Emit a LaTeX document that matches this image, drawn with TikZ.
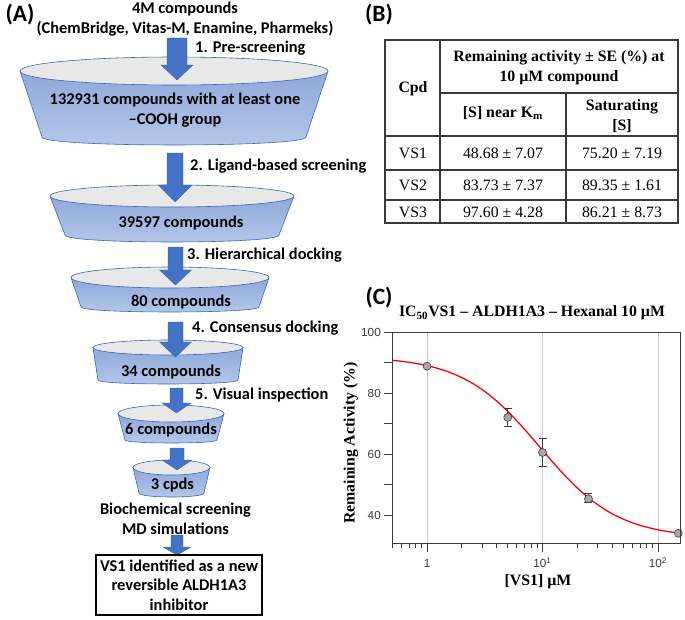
\documentclass[tikz,border=0pt]{standalone}
\usepackage{fontspec}
\setmainfont{Liberation Serif}
\newfontfamily\carfont{Carlito}
\newfontfamily\plotsans{Liberation Sans}
\usetikzlibrary{positioning,calc}
\definecolor{FunBlue}{HTML}{4472C4}
\definecolor{FunEdge}{HTML}{3A64B0}
\definecolor{FunTop}{HTML}{8EA8DB}
\definecolor{FunBot}{HTML}{B6C8E9}
\definecolor{LidGrey}{HTML}{E8E8E8}
\definecolor{GridGrey}{HTML}{CDCDCD}
\definecolor{AxisGrey}{HTML}{3A3A3A}
\definecolor{DotGrey}{HTML}{A9A9A9}

% funnel: name, cx, y top, rx top, ry, y bottom, rx bottom, sag
\newcommand{\funnel}[8]{%
  \draw[FunEdge,line width=0.5pt,top color=FunTop,bottom color=FunBot]
    ({#2-#4},#3) -- ({#2-#7},#6)
    .. controls ({#2-#7},{#6+1.33*#8}) and ({#2+#7},{#6+1.33*#8}) .. ({#2+#7},#6)
    -- ({#2+#4},#3) -- cycle;
  \draw[FunEdge,line width=0.5pt,fill=LidGrey] (#2,#3) ellipse [x radius=#4, y radius=#5];
  \coordinate (#1) at (#2,#3);
}
% block arrow: cx, y top, y tip, shaft half width, head half width, head length
\newcommand{\blockarrow}[6]{%
  \draw[FunEdge,line width=0.3pt,fill=FunBlue]
    ({#1-#4},#2) -- ({#1+#4},#2) -- ({#1+#4},{#3-#6}) -- ({#1+#5},{#3-#6})
    -- (#1,#3) -- ({#1-#5},{#3-#6}) -- ({#1-#4},{#3-#6}) -- cycle;
}

\begin{document}
\begin{tikzpicture}[
  x=0.03cm,y=-0.03cm,
  fu/.style={font=\carfont\bfseries\fontsize{14}{17}\selectfont,inner sep=0pt,align=center},
  stp/.style={fu,anchor=west},
  panel/.style={font=\carfont\bfseries\fontsize{20}{22}\selectfont,inner sep=0pt},
  tb/.style={font=\fontsize{13.5}{17}\selectfont,inner sep=0pt,align=center},
  tbh/.style={tb,font=\bfseries\fontsize{13.5}{17}\selectfont},
  tabln/.style={draw=AxisGrey,line width=0.9pt},
  axln/.style={draw=AxisGrey,line width=0.8pt},
  ticklab/.style={font=\plotsans\fontsize{10}{11}\selectfont,text=AxisGrey,inner sep=0pt},
  dot/.style={circle,fill=DotGrey,draw=AxisGrey,line width=0.5pt,minimum size=0.24cm,inner sep=0pt},
]
\useasboundingbox (0,0) rectangle (685,619);

% ---------------- (A) screening funnel
\node[panel] (labA) at (20,15) {(A)};
\node[fu] (lib) at (185,19) {4M compounds\\(ChemBridge, Vitas-M, Enamine, Pharmeks)};

\funnel{f1}{174}{71}{154}{14}{137}{132}{8}
\funnel{f2}{172}{196}{122}{11}{235}{107}{7}
\funnel{f3}{170}{277.5}{99}{10.5}{307}{89}{5}
\funnel{f4}{168}{347.5}{75}{7.5}{380}{70}{4}
\funnel{f5}{171}{413.5}{53}{8.5}{440}{46}{3}
\funnel{f6}{171.5}{467.5}{38.5}{7.5}{493}{32.5}{4}

\blockarrow{177}{38}{80}{10}{16}{15}
\blockarrow{175}{153}{202}{8}{17}{17}
\blockarrow{175.5}{247}{285}{7.5}{16}{15}
\blockarrow{175.5}{322}{357}{7.5}{16}{15}
\blockarrow{176.5}{388}{413}{6.5}{14.5}{10}
\blockarrow{177}{448}{470}{7}{15}{10}
\blockarrow{177}{535}{555}{6}{14}{8}

\node[stp] (s1) at (195,48) {1. Pre-screening};
\node[stp] (s2) at (190,166) {2. Ligand-based screening};
\node[stp] (s3) at (187,255) {3. Hierarchical docking};
\node[stp] (s4) at (192,328) {4. Consensus docking};
\node[stp] (s5) at (195,395) {5. Visual inspection};

\node[fu] (n1) at (175,110) {132931 compounds with at least one\\–COOH group};
\node[fu] (n2) at (181,223) {39597 compounds};
\node[fu] (n3) at (181,302) {80 compounds};
\node[fu] (n4) at (171,372) {34 compounds};
\node[fu] (n5) at (171,430) {6 compounds};
\node[fu] (n6) at (172.5,485) {3 cpds};
\node[fu] (bio) at (175.5,519) {Biochemical screening\\MD simulations};
\node[fu,draw=black,line width=1pt,minimum width=4.98cm,minimum height=1.8cm,
      font=\carfont\bfseries\fontsize{14}{16.8}\selectfont] (hit) at (179,585)
  {VS1 identified as a new\\reversible ALDH1A3\\inhibitor};

% ---------------- (B) table
\node[panel] (labB) at (379,15) {(B)};
\draw[tabln,line width=1.2pt] (385,40) rectangle (678,223);
\draw[tabln] (440,40) -- (440,223);
\draw[tabln] (566,93) -- (566,223);
\draw[tabln] (440,93) -- (678,93);
\foreach \ry in {136,170,200}
  \draw[tabln] (385,\ry) -- (678,\ry);

\node[tbh] (hcpd) at (413,89) {Cpd};
\node[tbh] (hact) at (559,68) {Remaining activity ± SE (\%) at\\10 µM compound};
\node[tbh] (hkm) at (503,113) {[S] near K\textsubscript{m}};
\node[tbh] (hsat) at (622,116) {Saturating\\{[S]}};
\foreach \cp/\va/\vb/\ry in {VS1/48.68 ± 7.07/75.20 ± 7.19/153,
                             VS2/83.73 ± 7.37/89.35 ± 1.61/185,
                             VS3/97.60 ± 4.28/86.21 ± 8.73/212}{
  \node[tb] (c\cp) at (413,\ry) {\cp};
  \node[tb] (k\cp) at (503,\ry) {\va};
  \node[tb] (s\cp) at (622,\ry) {\vb};
}

% ---------------- (C) IC50 curve
\node[panel] (labC) at (379,298) {(C)};
\node[tbh] (ttl) at (532,313) {IC\textsubscript{50}VS1 – ALDH1A3 – Hexanal 10 µM};

% grid at 1, 10, 100
\foreach \gx in {427,542.5,658}
  \draw[GridGrey,line width=0.6pt] (\gx,332) -- (\gx,543);
% fitted curve
\draw[red,line width=1.1pt] plot[domain=-0.303:2.19,samples=100,smooth]
  ({427+115.5*\x},{332+(100-(32.5+59.5/(1+pow(10,1.3*(\x-0.9777)))))*3.05});
% error bars
\foreach \lx/\hi/\lo in {0.699/75/69, 1/65/56, 1.398/47/44}{
  \draw[axln,line width=0.7pt] ({427+115.5*\lx},{332+(100-\hi)*3.05}) -- ({427+115.5*\lx},{332+(100-\lo)*3.05});
  \draw[axln,line width=0.7pt] ({427+115.5*\lx-4},{332+(100-\hi)*3.05}) -- ({427+115.5*\lx+4},{332+(100-\hi)*3.05});
  \draw[axln,line width=0.7pt] ({427+115.5*\lx-4},{332+(100-\lo)*3.05}) -- ({427+115.5*\lx+4},{332+(100-\lo)*3.05});
}
% data points
\foreach \lx/\v [count=\i] in {0/88.8, 0.699/72, 1/60.5, 1.398/45.3, 2.176/34}
  \node[dot] (pt\i) at ({427+115.5*\lx},{332+(100-\v)*3.05}) {};
% frame and ticks
\draw[axln] (392,332) rectangle (680,543);
\foreach \v in {40,50,...,100}
  \draw[axln] (392,{332+(100-\v)*3.05}) -- ++(-8,0);
\foreach \v in {40,60,80,100}
  \node[ticklab,anchor=east] (y\v) at (381,{332+(100-\v)*3.05}) {\v};
\foreach \m in {0.5,0.6,0.7,0.8,0.9,2,3,4,5,6,7,8,9,20,30,40,50,60,70,80,90}
  \draw[axln] ({427+115.5*log10(\m)},543) -- ++(0,5);
\foreach \gx in {427,542.5,658}
  \draw[axln] (\gx,543) -- ++(0,9);
\node[ticklab] (x1) at (427,563) {1};
\node[ticklab] (x10) at (542.5,563) {10\textsuperscript{1}};
\node[ticklab] (x100) at (658,563) {10\textsuperscript{2}};
\node[tbh,rotate=90] (ylab) at (351,443) {Remaining Activity (\%)};
\node[tbh] (xlab) at (538,582) {[VS1] µM};
\end{tikzpicture}
\end{document}
